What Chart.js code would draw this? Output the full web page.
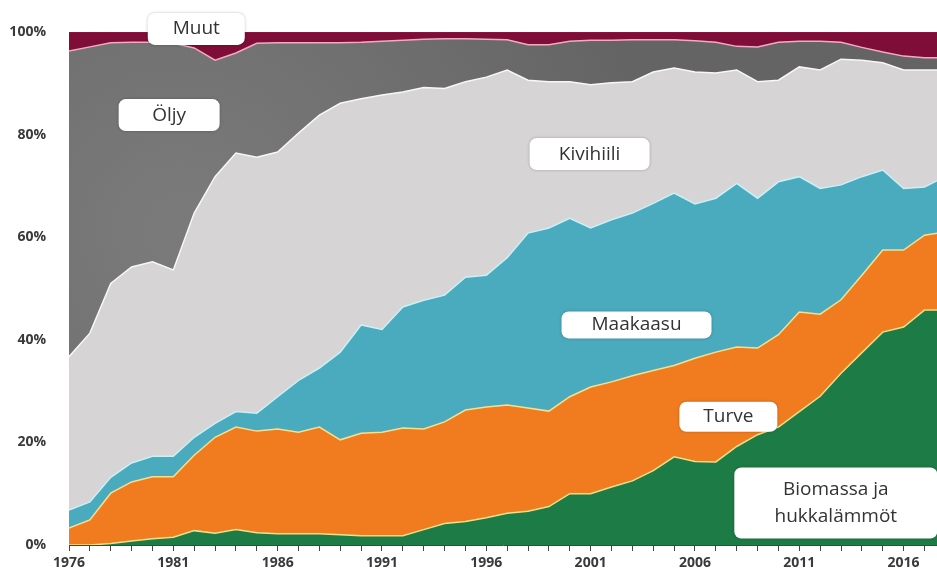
<!DOCTYPE html>
<html>
<head>
<meta charset="utf-8">
<script src="https://cdn.jsdelivr.net/npm/chart.js@4.4.1/dist/chart.umd.min.js"></script>
<style>
  html, body { margin: 0; padding: 0; background: #fff; }
  #wrap { width: 937px; height: 577px; position: relative; }
</style>
</head>
<body>
<div id="wrap"><canvas id="fuelChart"></canvas></div>
<script>
// Years 1976-2018, shares in % of district heat production
const years = [1976, 1977, 1978, 1979, 1980, 1981, 1982, 1983, 1984, 1985,
    1986, 1987, 1988, 1989, 1990, 1991, 1992, 1993, 1994, 1995,
    1996, 1997, 1998, 1999, 2000, 2001, 2002, 2003, 2004, 2005,
    2006, 2007, 2008, 2009, 2010, 2011, 2012, 2013, 2014, 2015,
    2016, 2017, 2018];

const biomassa = [0, 0, 0.3, 0.8, 1.2, 1.5, 2.8, 2.3, 3.0, 2.4,
    2.2, 2.2, 2.2, 2.0, 1.8, 1.8, 1.8, 3.0, 4.2, 4.6,
    5.3, 6.2, 6.6, 7.5, 10.0, 10.0, 11.3, 12.5, 14.5, 17.2,
    16.3, 16.2, 19.2, 21.5, 23.0, 26.0, 29.0, 33.5, 37.5, 41.5,
    42.5, 45.8, 45.8];

const turve = [3.3, 4.9, 9.8, 11.5, 12.1, 11.8, 14.7, 18.7, 20.0, 19.8,
    20.4, 19.8, 20.8, 18.5, 20.0, 20.2, 21.0, 19.6, 19.8, 21.7,
    21.6, 21.1, 20.1, 18.6, 18.9, 20.8, 20.5, 20.5, 19.5, 17.8,
    20.1, 21.4, 19.4, 16.9, 18.0, 19.4, 16.0, 14.3, 15.1, 16.0,
    15.0, 14.6, 15.2];

const maakaasu = [3.5, 3.5, 3.1, 3.7, 4.0, 4.0, 3.5, 2.7, 3.0, 3.5,
    6.3, 10.1, 11.5, 17.1, 21.1, 20.0, 23.6, 25.1, 24.7, 25.9,
    25.7, 28.7, 34.1, 35.7, 34.8, 31.0, 31.6, 31.7, 32.6, 33.6,
    30.1, 30.0, 31.9, 29.2, 29.8, 26.4, 24.5, 22.4, 19.2, 15.6,
    12.0, 9.4, 10.8];

const kivihiili = [29.9, 32.9, 37.8, 38.2, 37.9, 36.3, 43.7, 48.1, 50.4, 49.9,
    47.7, 48.2, 49.3, 48.5, 44.1, 45.7, 41.9, 41.5, 40.3, 38.1,
    38.6, 36.6, 29.8, 28.5, 26.6, 27.9, 26.7, 25.6, 25.6, 24.4,
    25.7, 24.4, 22.1, 22.7, 19.8, 21.4, 23.1, 24.5, 22.7, 20.9,
    23.1, 22.8, 20.8];

const oljy = [59.6, 55.8, 46.9, 43.8, 42.8, 44.2, 32.2, 22.7, 19.5, 22.2,
    21.3, 17.6, 14.1, 11.8, 11.0, 10.5, 10.1, 9.4, 9.7, 8.4,
    7.4, 5.9, 6.9, 7.2, 7.9, 8.7, 8.3, 8.2, 6.3, 5.5,
    6.1, 6.0, 4.6, 6.8, 7.4, 5.0, 5.6, 3.3, 2.5, 2.1,
    2.7, 2.4, 2.4];

const muut = [3.7, 2.9, 2.1, 2.0, 2.0, 2.2, 3.1, 5.5, 4.1, 2.2,
    2.1, 2.1, 2.1, 2.1, 2.0, 1.8, 1.6, 1.4, 1.3, 1.3,
    1.4, 1.5, 2.5, 2.5, 1.8, 1.6, 1.6, 1.5, 1.5, 1.5,
    1.7, 2.0, 2.8, 2.9, 2.0, 1.8, 1.8, 2.0, 3.0, 3.9,
    4.7, 5.0, 5.0];

const yTicks = [0, 20, 40, 60, 80, 100];

// label boxes: text lines, anchor (year, %), box size
const areaLabels = [
    { lines: ['Muut'], x: 1982.1, y: 100.6, w: 97, h: 32 },
    { lines: ['Öljy'], x: 1980.8, y: 83.8, w: 101, h: 32 },
    { lines: ['Kivihiili'], x: 2000.95, y: 76.2, w: 120, h: 32 },
    { lines: ['Maakaasu'], x: 2003.2, y: 42.9, w: 150, h: 27 },
    { lines: ['Turve'], x: 2007.6, y: 25.0, w: 98, h: 30 },
    { lines: ['Biomassa ja', 'hukkalämmöt'], x: 2012.75, y: 8.2, w: 203, h: 71 }
];

function pts(arr) {
    return arr.map((v, i) => ({ x: years[i], y: v }));
}

function oilFill(ctx) {
    const area = ctx.chart.chartArea;
    if (!area) return '#6c6c6c';
    const g = ctx.chart.ctx.createRadialGradient(180, 230, 30, 180, 230, 480);
    g.addColorStop(0, '#7a7a7a');
    g.addColorStop(1, '#646464');
    return g;
}

const labelPlugin = {
    id: 'areaLabels',
    afterDatasetsDraw(chart) {
        const c = chart.ctx;
        const xs = chart.scales.x, ys = chart.scales.y;
        c.save();
        areaLabels.forEach(l => {
            const cx = xs.getPixelForValue(l.x);
            const cy = ys.getPixelForValue(l.y);
            const bx = cx - l.w / 2, by = cy - l.h / 2;
            c.shadowColor = 'rgba(0,0,0,0.25)';
            c.shadowBlur = 3;
            c.fillStyle = '#ffffff';
            c.beginPath();
            c.roundRect(bx, by, l.w, l.h, 7);
            c.fill();
            c.shadowBlur = 0;
            c.fillStyle = '#333333';
            c.font = '19px "Open Sans", sans-serif';
            c.textAlign = 'center';
            c.textBaseline = 'middle';
            const lh = 27;
            l.lines.forEach((t, i) => {
                c.fillText(t, cx, cy + (i - (l.lines.length - 1) / 2) * lh);
            });
        });
        c.restore();
    }
};

const series = [
    { label: 'Biomassa ja hukkalämmöt', data: biomassa, bg: '#1d7b45', line: '#f1e08c', fill: 'origin' },
    { label: 'Turve', data: turve, bg: '#f07c1f', line: '#f6e08e', fill: '-1' },
    { label: 'Maakaasu', data: maakaasu, bg: '#4aaabe', line: '#c9f1f6', fill: '-1' },
    { label: 'Kivihiili', data: kivihiili, bg: '#d6d4d5', line: '#f7f7f7', fill: '-1' },
    { label: 'Öljy', data: oljy, bg: oilFill, line: '#f4a9c3', fill: '-1' },
    { label: 'Muut', data: muut, bg: '#7e0d37', line: '#8a1a42', fill: '-1' }
];

new Chart(document.getElementById('fuelChart'), {
    type: 'line',
    data: {
        datasets: series.map(s => ({
            label: s.label,
            data: pts(s.data),
            backgroundColor: s.bg,
            borderColor: s.line,
            borderWidth: 1.5,
            fill: s.fill,
            pointRadius: 0,
            tension: 0
        }))
    },
    options: {
        responsive: true,
        maintainAspectRatio: false,
        animation: false,
        layout: { padding: { top: 32, right: 0, left: 0, bottom: 0 } },
        scales: {
            x: {
                type: 'linear',
                min: 1976,
                max: 2017.6,
                afterFit: (s) => { s.height = 32; },
                grid: { drawOnChartArea: false, tickLength: 6, tickColor: '#444', lineWidth: 1 },
                border: { display: true, color: '#444', width: 1 },
                ticks: {
                    stepSize: 1,
                    includeBounds: false,
                    autoSkip: false,
                    maxRotation: 0,
                    padding: 4,
                    color: '#3a3a3a',
                    font: { family: '"Open Sans", sans-serif', size: 14, weight: 'bold' },
                    callback: (v) => ((v - 1976) % 5 === 0 ? String(v) : '')
                }
            },
            y: {
                stacked: true,
                min: 0,
                max: 100,
                afterFit: (s) => { s.width = 69; },
                grid: { display: false },
                border: { display: false },
                afterBuildTicks: (s) => { s.ticks = yTicks.map(v => ({ value: v })); },
                ticks: {
                    padding: 15,
                    color: '#3a3a3a',
                    font: { family: '"Open Sans", sans-serif', size: 14, weight: 'bold' },
                    callback: (v) => v + '%'
                }
            }
        },
        plugins: {
            legend: { display: false },
            tooltip: { enabled: false }
        }
    },
    plugins: [labelPlugin]
});
</script>
</body>
</html>
